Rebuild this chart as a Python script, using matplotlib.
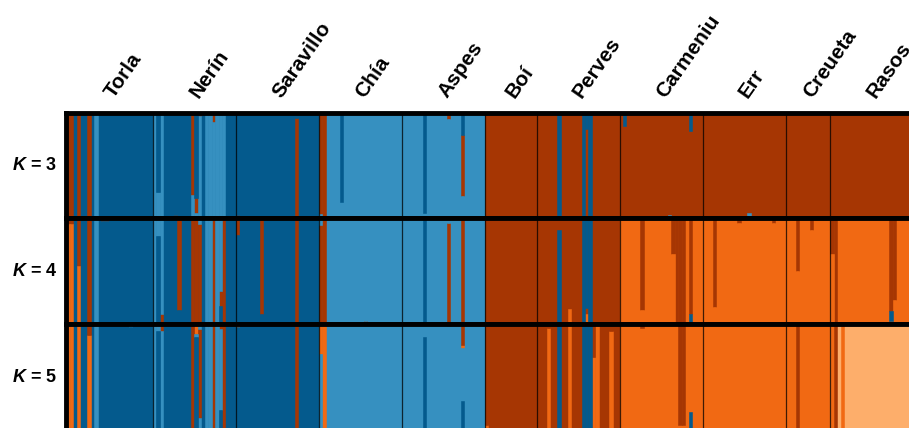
import matplotlib.pyplot as plt
from matplotlib.transforms import blended_transform_factory
import numpy as np

plt.rcParams['font.family'] = 'Liberation Sans'
plt.rcParams['mathtext.fontset'] = 'custom'
plt.rcParams['mathtext.it'] = 'Liberation Sans:italic:bold'
plt.rcParams['mathtext.rm'] = 'Liberation Sans:bold'

# populations, left to right, and number of individuals in each
populations = ['Torla', 'Nerín', 'Saravillo', 'Chía', 'Aspes', 'Boí',
               'Perves', 'Carmeniu', 'Err', 'Creueta', 'Rasos']
pop_sizes = [25, 24, 24, 24, 24, 15, 24, 24, 24, 13, 24]

# cluster colours: b dark blue, c light blue, r dark orange, o orange, y light orange
colors = {'b': '#045a8d', 'c': '#3690c0', 'r': '#a63603',
          'o': '#f16913', 'y': '#fdae6b'}

# main cluster of each population for each K
default_k3 = ['b', 'b', 'b', 'c', 'c', 'r', 'r', 'r', 'r', 'r', 'r']
default_k4 = ['b', 'b', 'b', 'c', 'c', 'r', 'r', 'o', 'o', 'o', 'o']
default_k5 = ['b', 'b', 'b', 'c', 'c', 'r', 'r', 'o', 'o', 'o', 'y']

# admixed individuals: index -> memberships listed from top of bar to bottom
admix_k3 = {
    0: [('r', 1)], 1: [('r', 1)], 3: [('r', 1)], 6: [('r', 1)], 8: [('c', 1)],
    15: [('b', .98), ('c', .02)], 18: [('b', .98), ('c', .02)],
    25: [('c', 1)], 26: [('b', .75), ('c', .25)], 27: [('c', 1)],
    31: [('b', .97), ('r', .03)],
    36: [('r', .78), ('c', .22)], 37: [('b', .81), ('r', .145), ('c', .045)],
    38: [('r', .03), ('c', .97)], 40: [('c', 1)], 41: [('c', 1)],
    42: [('r', .09), ('c', .91)], 43: [('c', 1)], 44: [('c', 1)], 45: [('c', 1)],
    49: [('b', .97), ('r', .03)], 66: [('b', .05), ('r', .95)],
    73: [('r', .96), ('c', .04)], 74: [('r', 1)], 79: [('b', .85), ('c', .15)],
    103: [('b', .95), ('c', .05)], 110: [('r', .06), ('c', .94)],
    114: [('b', .21), ('r', .58), ('c', .21)],
    121: [('b', .02), ('r', .98)], 142: [('b', 1)], 149: [('b', 1)],
    150: [('b', .15), ('r', .85)], 151: [('b', 1)],
    161: [('b', .12), ('r', .88)], 174: [('r', .97), ('c', .03)],
    180: [('b', .17), ('r', .83)], 197: [('r', .95), ('c', .05)],
    238: [('b', .02), ('r', .98)],
}

admix_k4 = {
    0: [('r', .06), ('o', .94)], 1: [('r', .06), ('o', .94)],
    3: [('r', .45), ('o', .55)], 6: [('r', 1)], 8: [('c', 1)],
    10: [('r', .03), ('b', .97)], 11: [('r', .03), ('b', .97)],
    25: [('c', 1)], 26: [('c', .17), ('b', .83)], 27: [('c', .91), ('r', .09)],
    32: [('r', .87), ('b', .13)],
    36: [('r', 1)], 37: [('r', 1)], 38: [('c', .06), ('r', .94)],
    40: [('c', 1)], 41: [('c', 1)], 42: [('r', 1)], 43: [('c', 1)],
    44: [('c', .69), ('r', .14), ('b', .17)], 45: [('r', 1)],
    49: [('r', .16), ('b', .84)], 56: [('r', .91), ('b', .09)], 66: [('r', 1)],
    73: [('c', .07), ('r', .93)], 74: [('r', .98), ('o', .02)],
    86: [('c', .97), ('r', .03)],
    103: [('b', 1)], 110: [('c', .05), ('r', .95)], 114: [('r', 1)],
    142: [('r', .11), ('b', .89)], 145: [('r', .86), ('o', .14)],
    149: [('b', 1)], 150: [('b', .85), ('r', .06), ('o', .09)], 151: [('b', 1)],
    166: [('r', .865), ('o', .135)], 175: [('r', .34), ('o', .66)],
    176: [('r', 1)], 177: [('r', 1)], 178: [('r', 1)],
    180: [('r', .91), ('b', .09)], 187: [('r', .84), ('o', .16)],
    194: [('r', .05), ('o', .95)], 204: [('r', .05), ('o', .95)],
    211: [('r', .5), ('o', .5)], 215: [('r', .11), ('o', .89)],
    221: [('r', .34), ('o', .66)], 222: [('r', 1)],
    238: [('r', .88), ('b', .09), ('o', .03)], 239: [('r', .77), ('o', .23)],
}

admix_k5 = {
    0: [('o', 1)], 1: [('o', 1)], 3: [('o', 1)], 6: [('r', .10), ('o', .90)],
    8: [('c', 1)], 18: [('c', .03), ('b', .97)],
    25: [('c', 1)], 26: [('c', .07), ('b', .93)], 27: [('r', .07), ('c', .93)],
    36: [('r', 1)], 37: [('o', .09), ('c', .03), ('b', .88)],
    38: [('c', .05), ('r', .84), ('c', .11)],
    40: [('c', 1)], 41: [('c', 1)], 42: [('r', 1)], 43: [('c', 1)],
    44: [('r', .05), ('c', .76), ('b', .19)], 45: [('r', 1)],
    49: [('o', .03), ('b', .97)], 66: [('r', 1)],
    73: [('o', .28), ('c', .72)], 74: [('o', 1)],
    103: [('c', .12), ('b', .88)], 110: [('r', .02), ('c', .98)],
    114: [('r', .2), ('o', .03), ('c', .5), ('b', .27)],
    121: [('r', .95), ('o', .05)], 136: [('r', .98), ('o', .02)],
    139: [('r', .04), ('o', .96)], 142: [('b', 1)], 145: [('o', 1)],
    149: [('b', 1)], 150: [('b', 1)], 151: [('b', 1)],
    152: [('r', .31), ('o', .69)], 153: [('o', 1)], 157: [('r', .07), ('o', .93)],
    166: [('r', .04), ('o', .96)], 177: [('r', .95), ('o', .05)],
    178: [('r', .95), ('o', .05)], 180: [('o', .83), ('b', .17)],
    211: [('r', 1)], 221: [('o', 1)], 222: [('r', 1)], 224: [('o', 1)],
}

k_labels = ['3', '4', '5']

n_ind = sum(pop_sizes)
starts = np.concatenate([[0], np.cumsum(pop_sizes)[:-1]])


def draw_panel(ax, defaults, admix):
    # one block per population in its main colour
    ax.bar(starts, 1.0, width=pop_sizes, align='edge',
           color=[colors[c] for c in defaults], linewidth=0)
    # then the admixed individuals on top
    groups = {}
    for x, segs in admix.items():
        top = 1.0
        for c, f in segs:
            gx, gh, gb = groups.setdefault(c, ([], [], []))
            gx.append(x)
            gh.append(f)
            gb.append(top - f)
            top -= f
    for c, (gx, gh, gb) in groups.items():
        ax.bar(gx, gh, bottom=gb, width=1.0, align='edge', color=colors[c],
               edgecolor=colors[c], linewidth=0.4)
    for b in starts[1:]:
        ax.axvline(b, color='black', lw=0.9, alpha=0.75)
    ax.set_xlim(0, n_ind)
    ax.set_ylim(0, 1)
    ax.set_xticks([])
    ax.set_yticks([])
    for s in ax.spines.values():
        s.set_linewidth(3.5)
        s.set_zorder(5)


W, H = 909, 428
fig = plt.figure(figsize=(W / 100, H / 100), dpi=100)

px_per_ind = 3.457
x0 = 66.45
panel_edges = [113, 218, 324, 430]
panels = [(default_k3, admix_k3), (default_k4, admix_k4), (default_k5, admix_k5)]

axes = []
for i, (defaults, admix) in enumerate(panels):
    top, bot = panel_edges[i], panel_edges[i + 1]
    ax = fig.add_axes([x0 / W, 1 - bot / H, n_ind * px_per_ind / W, (bot - top) / H])
    draw_panel(ax, defaults, admix)
    axes.append(ax)
    fig.text(34.5 / W, 1 - (top + bot) / 2 / H, r'$K$ = ' + k_labels[i],
             ha='center', va='center', fontsize=13, fontweight='bold')

# population names above the top panel
trans = blended_transform_factory(axes[0].transData, fig.transFigure)
for name, s, n in zip(populations, starts, pop_sizes):
    axes[0].text(s + n / 2 + 1.1, 1 - 99 / H, name, transform=trans,
                 rotation=55, rotation_mode='anchor', ha='left', va='baseline',
                 fontsize=15, fontweight='bold', clip_on=False)

fig.savefig('out.png', dpi=100)
